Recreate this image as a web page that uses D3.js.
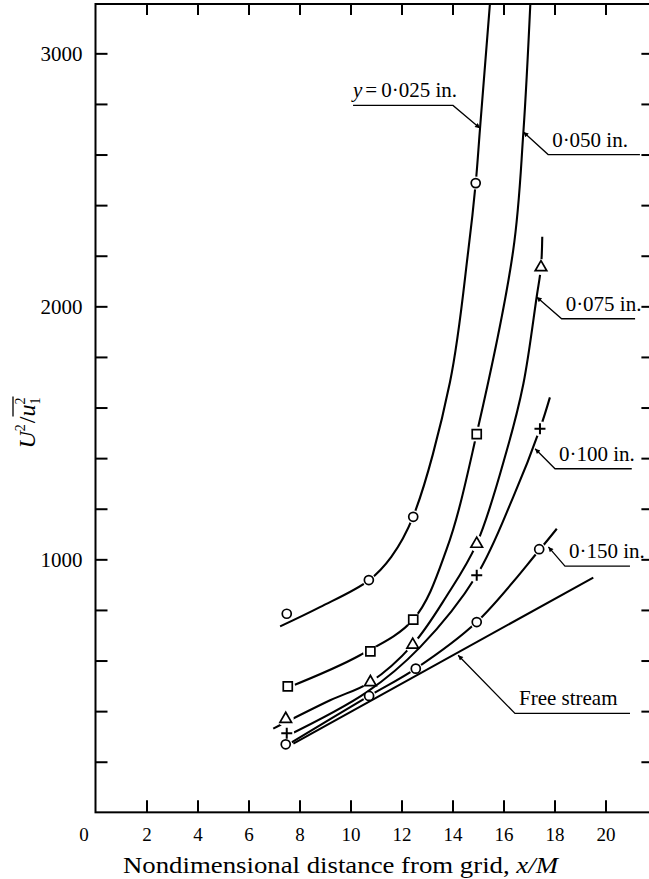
<!DOCTYPE html>
<html>
<head>
<meta charset="utf-8">
<script src="https://cdn.jsdelivr.net/npm/d3@7"></script>
<style>
  body { margin: 0; background: #fff; }
  text { font-family: "Liberation Serif", "Times New Roman", serif; fill: #000; }
</style>
</head>
<body>
<script>
// axis ticks
var xTickValues = [0, 2, 4, 6, 8, 10, 12, 14, 16, 18, 20];
var yTickValues = [200, 400, 600, 800, 1000, 1200, 1400, 1600, 1800, 2000, 2200, 2400, 2600, 2800, 3000];
var yTickLabels = [1000, 2000, 3000];

// measured points, [x/M, U^2/u1^2]
var circles025 = [[7.5, 785], [10.72, 918], [12.46, 1168], [14.91, 2487]];
var squares050 = [[7.54, 498], [10.78, 636], [12.46, 762], [14.95, 1495]];
var triangles075 = [[7.46, 370], [10.78, 515], [12.44, 663], [14.95, 1062], [17.47, 2155]];
var plus100 = [[7.5, 313], [14.95, 937], [17.43, 1516]];
var circles150 = [[7.46, 269], [10.73, 460], [12.56, 568], [14.95, 752], [17.4, 1040]];

// faired curves
var curve025 = [[7.24, 735], [8.8, 811], [10.72, 917], [11.6, 1010], [12.46, 1170], [13.9, 1700], [14.62, 2221], [14.91, 2487], [15.08, 2704], [15.55, 3300]];
var curve050 = [[7.54, 493], [10.37, 621], [12.46, 762], [13.77, 1040], [14.95, 1497], [16.38, 2221], [16.78, 2689], [17.1, 3300]];
var curve075 = [[6.97, 331], [9.2, 443], [10.78, 515], [12.44, 663], [13.77, 855], [14.95, 1062], [16.13, 1431], [16.78, 1694], [17.3, 2037], [17.47, 2155], [17.52, 2275]];
var curve100 = [[7.39, 296], [10.64, 475], [12.73, 653], [14.95, 937], [16.38, 1246], [17.43, 1516], [17.82, 1640]];
var curve150 = [[7.43, 261], [10.73, 460], [12.56, 568], [14.95, 752], [17.4, 1036], [18.09, 1121]];
var freeStream = [[7.76, 271.5], [19.52, 928]];

var outerWidth = 649;
var outerHeight = 879;
var margin = { top: 4, left: 95.5 };
var pxPerX = 25.5;      // px per unit of x/M
var pxPerY = 0.253;     // px per unit of U^2/u1^2
var xFrameMax = 21.8;   // frame runs off the right edge
var yFrameMax = 3195;

var xScale = d3.scaleLinear()
  .domain([0, 20])
  .range([margin.left, margin.left + 20 * pxPerX]);
var y0 = margin.top + yFrameMax * pxPerY;
var yScale = d3.scaleLinear()
  .domain([0, 3000])
  .range([y0, y0 - 3000 * pxPerY]);

var svg = d3.select("body")
  .append("svg")
  .attr("width", outerWidth)
  .attr("height", outerHeight);

var defs = svg.append("defs");

defs.append("clipPath")
  .attr("id", "plot-clip")
  .append("rect")
  .attr("x", xScale(0))
  .attr("y", yScale(yFrameMax))
  .attr("width", xScale(xFrameMax) - xScale(0))
  .attr("height", yScale(0) - yScale(yFrameMax));

defs.append("marker")
  .attr("id", "arrow")
  .attr("viewBox", "0 0 10 10")
  .attr("refX", 10)
  .attr("refY", 5)
  .attr("markerWidth", 10)
  .attr("markerHeight", 5)
  .attr("markerUnits", "userSpaceOnUse")
  .attr("orient", "auto")
  .append("path")
  .attr("d", "M0,0L10,5L0,10Z")
  .attr("fill", "#000");

// frame
svg.append("rect")
  .attr("x", xScale(0))
  .attr("y", yScale(yFrameMax))
  .attr("width", xScale(xFrameMax) - xScale(0))
  .attr("height", yScale(0) - yScale(yFrameMax))
  .attr("fill", "none")
  .attr("stroke", "#000")
  .attr("stroke-width", 2);

// axes, ticks pointing inward
var xAxis = d3.axisBottom(xScale)
  .tickValues(xTickValues)
  .tickSizeInner(-12)
  .tickSizeOuter(0)
  .tickPadding(15)
  .tickFormat((d) => (d === 0 ? "0" : d));
var gx = svg.append("g")
  .attr("transform", "translate(0," + yScale(0) + ")")
  .call(xAxis);
gx.select(".domain").remove();
gx.selectAll(".tick line").filter((d) => d === 0).remove();
gx.selectAll("text")
  .attr("font-size", 19)
  .attr("font-family", "Liberation Serif")
  .attr("dx", (d) => (d === 0 ? -12 : 0));

var yAxis = d3.axisLeft(yScale)
  .tickValues(yTickValues)
  .tickSizeInner(-12)
  .tickSizeOuter(0)
  .tickPadding(13)
  .tickFormat((d) => (yTickLabels.indexOf(d) >= 0 ? d : ""));
var gy = svg.append("g")
  .attr("transform", "translate(" + xScale(0) + ",0)")
  .call(yAxis);
gy.select(".domain").remove();
gy.selectAll("text")
  .attr("font-size", 21)
  .attr("font-family", "Liberation Serif");

var topAxis = d3.axisTop(xScale)
  .tickValues(xTickValues.slice(1))
  .tickSizeInner(-11)
  .tickSizeOuter(0)
  .tickFormat("");
var gt = svg.append("g")
  .attr("transform", "translate(0," + yScale(yFrameMax) + ")")
  .call(topAxis);
gt.select(".domain").remove();

var rightAxis = d3.axisRight(yScale)
  .tickValues(yTickValues)
  .tickSizeInner(-10)
  .tickSizeOuter(0)
  .tickFormat("");
var gr = svg.append("g")
  .attr("transform", "translate(" + xScale(xFrameMax) + ",0)")
  .call(rightAxis);
gr.select(".domain").remove();

svg.selectAll(".tick line")
  .attr("stroke", "#000")
  .attr("stroke-width", 2);

// curves with gaps around their own markers
var series = [
  { id: "s025", curve: curve025, points: circles025, symbol: "circle" },
  { id: "s050", curve: curve050, points: squares050, symbol: "square" },
  { id: "s075", curve: curve075, points: triangles075, symbol: "triangle" },
  { id: "s100", curve: curve100, points: plus100, symbol: "plus" },
  { id: "s150", curve: curve150, points: circles150, symbol: "circle" },
];

var gapRadius = { circle: 6.5, square: 7.5, triangle: 8, plus: 7.5 };

var line = d3.line()
  .x((d) => xScale(d[0]))
  .y((d) => yScale(d[1]))
  .curve(d3.curveCatmullRom.alpha(0.5));

var plot = svg.append("g").attr("clip-path", "url(#plot-clip)");

series.forEach(function (s) {
  var mask = defs.append("mask").attr("id", "mask-" + s.id)
    .attr("maskUnits", "userSpaceOnUse")
    .attr("x", 0).attr("y", 0)
    .attr("width", outerWidth).attr("height", outerHeight);
  mask.append("rect")
    .attr("width", outerWidth)
    .attr("height", outerHeight)
    .attr("fill", "#fff");
  mask.selectAll("circle")
    .data(s.points)
    .enter()
    .append("circle")
    .attr("cx", (d) => xScale(d[0]))
    .attr("cy", (d) => yScale(d[1]))
    .attr("r", gapRadius[s.symbol])
    .attr("fill", "#000");

  plot.append("path")
    .attr("class", "line-path")
    .attr("id", s.id)
    .attr("d", line(s.curve))
    .attr("mask", "url(#mask-" + s.id + ")")
    .attr("fill", "none")
    .attr("stroke", "#000")
    .attr("stroke-width", 2.1);
});

plot.append("path")
  .attr("class", "line-path")
  .attr("d", d3.line().x((d) => xScale(d[0])).y((d) => yScale(d[1]))(freeStream))
  .attr("fill", "none")
  .attr("stroke", "#000")
  .attr("stroke-width", 2.1);

// markers
var symbolPath = {
  square: "M-4.5,-4.5H4.5V4.5H-4.5Z",
  triangle: "M0,-6.5L5.8,3.6H-5.8Z",
  plus: "M-5.5,0H5.5M0,-5.5V5.5",
};

series.forEach(function (s) {
  var g = svg.append("g").attr("class", "markers");
  var m = g.selectAll(".marker")
    .data(s.points)
    .enter();
  if (s.symbol === "circle") {
    m.append("circle")
      .attr("cx", (d) => xScale(d[0]))
      .attr("cy", (d) => yScale(d[1]))
      .attr("r", 4.5)
      .attr("fill", "#fff")
      .attr("stroke", "#000")
      .attr("stroke-width", 1.7);
  } else {
    m.append("path")
      .attr("transform", (d) => "translate(" + xScale(d[0]) + "," + yScale(d[1]) + ")")
      .attr("d", symbolPath[s.symbol])
      .attr("fill", s.symbol === "plus" ? "none" : "#fff")
      .attr("stroke", "#000")
      .attr("stroke-width", s.symbol === "plus" ? 2 : 1.7);
  }
});

// call-out labels: tip on the curve, elbow, far end of the shelf
var callouts = [
  { text: "0·025 in.", prefix: true, tip: [15.08, 2704], elbow: [14.02, 2794], end: 10.1 },
  { text: "0·050 in.", tip: [16.78, 2689], elbow: [17.75, 2600], end: 21.35 },
  { text: "0·075 in.", tip: [17.3, 2037], elbow: [18.28, 1951], end: 21.16 },
  { text: "0·100 in.", tip: [17.24, 1437], elbow: [18.02, 1358], end: 21.03 },
  { text: "0·150 in.", tip: [17.76, 1049], elbow: [18.41, 973], end: 20.96 },
  { text: "Free stream", tip: [14.22, 621], elbow: [16.45, 391], end: 20.96 },
];

var notes = svg.append("g").attr("class", "callouts");

callouts.forEach(function (c) {
  var ex = xScale(c.elbow[0]);
  var ey = yScale(c.elbow[1]);
  notes.append("path")
    .attr("d", "M" + xScale(c.end) + "," + ey +
      "L" + ex + "," + ey +
      "L" + xScale(c.tip[0]) + "," + yScale(c.tip[1]))
    .attr("fill", "none")
    .attr("stroke", "#000")
    .attr("stroke-width", 1.3)
    .attr("marker-end", "url(#arrow)");

  var leftSide = xScale(c.end) < ex;
  var t = notes.append("text")
    .attr("x", ex + 4)
    .attr("y", ey - 8)
    .attr("font-size", 21)
    .attr("text-anchor", leftSide ? "end" : "start");
  if (c.prefix) {
    t.append("tspan").attr("font-style", "italic").text("y");
    t.append("tspan").attr("dx", 3).text("=");
    t.append("tspan").attr("dx", 4).text(c.text);
  } else {
    t.text(c.text);
  }
});

// axis titles
svg.append("text")
  .attr("x", 123)
  .attr("y", 873)
  .attr("font-size", 23)
  .attr("textLength", 435)
  .attr("lengthAdjust", "spacingAndGlyphs")
  .call(function (t) {
    t.append("tspan").text("Nondimensional distance from grid, ");
    t.append("tspan").attr("font-style", "italic").text("x/M");
  });

var yl = svg.append("g")
  .attr("transform", "translate(26,423) rotate(-90)");
var ylt = yl.append("text")
  .attr("x", 0)
  .attr("y", 9)
  .attr("font-size", 24)
  .attr("text-anchor", "middle");
ylt.append("tspan").attr("font-style", "italic").text("U");
ylt.append("tspan").attr("font-size", 14).attr("dy", -10).text("2");
ylt.append("tspan").attr("dy", 10).attr("dx", 1).text("/");
ylt.append("tspan").attr("font-style", "italic").text("u");
ylt.append("tspan").attr("font-size", 14).attr("dy", -10).text("2");
ylt.append("tspan").attr("font-size", 14).attr("dx", -7).attr("dy", 15).text("1");

var node = ylt.node();
var uStart = node.getStartPositionOfChar(3);
var uEnd = node.getEndPositionOfChar(4);
yl.append("line")
  .attr("x1", uStart.x)
  .attr("x2", uEnd.x + 1)
  .attr("y1", 9 - 22)
  .attr("y2", 9 - 22)
  .attr("stroke", "#000")
  .attr("stroke-width", 1.3);
</script>
</body>
</html>
